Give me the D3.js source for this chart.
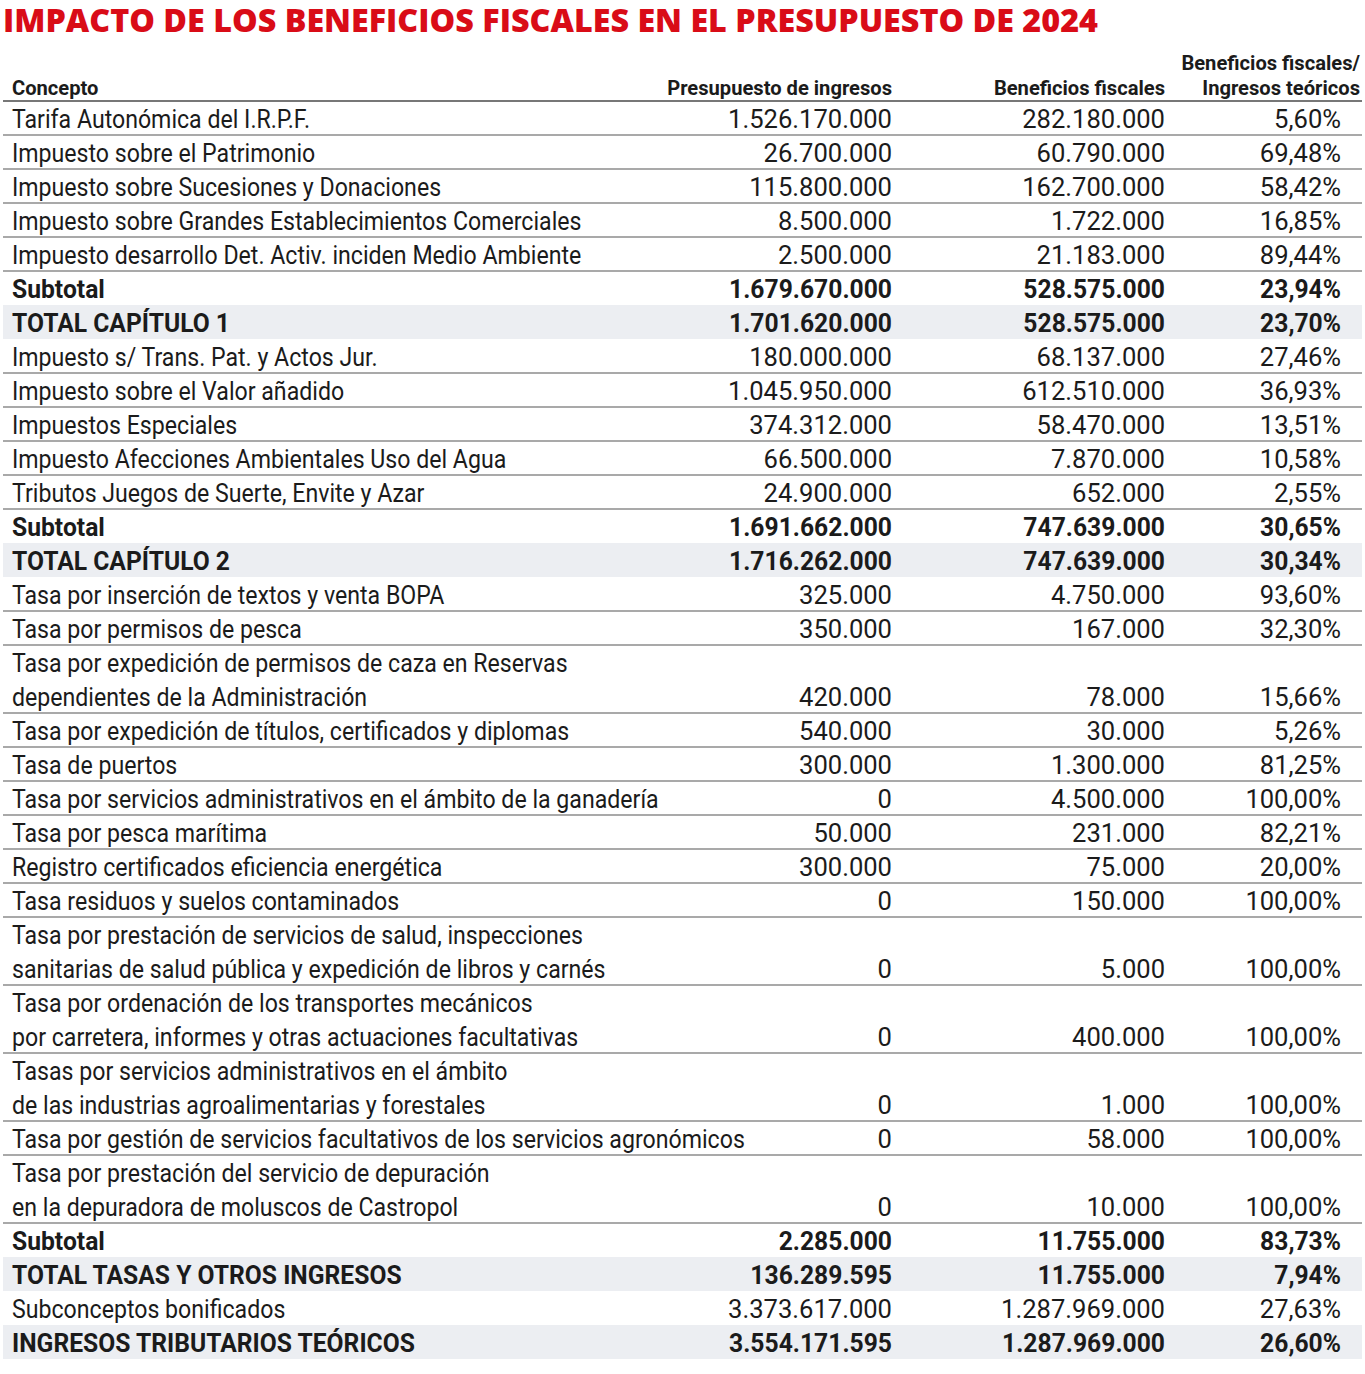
<!DOCTYPE html>
<html><head><meta charset="utf-8">
<script src="https://cdn.jsdelivr.net/npm/d3@7"></script>
<style>html,body{margin:0;padding:0;background:#fff;}</style>
</head><body>
<svg id="chart" width="1365" height="1374"></svg>
<script>
const title = "IMPACTO DE LOS BENEFICIOS FISCALES EN EL PRESUPUESTO DE 2024";
const headers = ["Concepto", "Presupuesto de ingresos", "Beneficios fiscales", "Beneficios fiscales/\nIngresos teóricos"];
const concepts = [
  "Tarifa Autonómica del I.R.P.F.",
  "Impuesto sobre el Patrimonio",
  "Impuesto sobre Sucesiones y Donaciones",
  "Impuesto sobre Grandes Establecimientos Comerciales",
  "Impuesto desarrollo Det. Activ. inciden Medio Ambiente",
  "Subtotal",
  "TOTAL CAPÍTULO 1",
  "Impuesto s/ Trans. Pat. y Actos Jur.",
  "Impuesto sobre el Valor añadido",
  "Impuestos Especiales",
  "Impuesto Afecciones Ambientales Uso del Agua",
  "Tributos Juegos de Suerte, Envite y Azar",
  "Subtotal",
  "TOTAL CAPÍTULO 2",
  "Tasa por inserción de textos y venta BOPA",
  "Tasa por permisos de pesca",
  "Tasa por expedición de permisos de caza en Reservas\ndependientes de la Administración",
  "Tasa por expedición de títulos, certificados y diplomas",
  "Tasa de puertos",
  "Tasa por servicios administrativos en el ámbito de la ganadería",
  "Tasa por pesca marítima",
  "Registro certificados eficiencia energética",
  "Tasa residuos y suelos contaminados",
  "Tasa por prestación de servicios de salud, inspecciones\nsanitarias de salud pública y expedición de libros y carnés",
  "Tasa por ordenación de los transportes mecánicos\npor carretera, informes y otras actuaciones facultativas",
  "Tasas por servicios administrativos en el ámbito\nde las industrias agroalimentarias y forestales",
  "Tasa por gestión de servicios facultativos de los servicios agronómicos",
  "Tasa por prestación del servicio de depuración\nen la depuradora de moluscos de Castropol",
  "Subtotal",
  "TOTAL TASAS Y OTROS INGRESOS",
  "Subconceptos bonificados",
  "INGRESOS TRIBUTARIOS TEÓRICOS"
];
const rowTypes = ["n","n","n","n","n","s","t","n","n","n","n","n","s","t",
  "n","n","n","n","n","n","n","n","n","n","n","n","n","n","s","t","n","t"];
const presupuesto = [1526170000, 26700000, 115800000, 8500000, 2500000, 1679670000, 1701620000,
  180000000, 1045950000, 374312000, 66500000, 24900000, 1691662000, 1716262000,
  325000, 350000, 420000, 540000, 300000, 0, 50000, 300000, 0, 0, 0, 0, 0, 0,
  2285000, 136289595, 3373617000, 3554171595];
const beneficios = [282180000, 60790000, 162700000, 1722000, 21183000, 528575000, 528575000,
  68137000, 612510000, 58470000, 7870000, 652000, 747639000, 747639000,
  4750000, 167000, 78000, 30000, 1300000, 4500000, 231000, 75000, 150000, 5000, 400000, 1000, 58000, 10000,
  11755000, 11755000, 1287969000, 1287969000];
const ratio = [5.60, 69.48, 58.42, 16.85, 89.44, 23.94, 23.70,
  27.46, 36.93, 13.51, 10.58, 2.55, 30.65, 30.34,
  93.60, 32.30, 15.66, 5.26, 81.25, 100.00, 82.21, 20.00, 100.00, 100.00, 100.00, 100.00, 100.00, 100.00,
  83.73, 7.94, 27.63, 26.60];

const svg = d3.select("#chart");
const left = 3, right = 1362;
const textColor = "#1b1b1b";
const loc = d3.formatLocale({decimal: ",", thousands: ".", grouping: [3], currency: ["", "€"]});
const fmtInt = loc.format(",d");
const fmtPct = v => loc.format(",.2f")(v) + "%";

// title
svg.append("text").attr("x", 3).attr("y", 32)
  .attr("font-family", "'Open Sans', sans-serif").attr("font-weight", 800)
  .attr("font-size", 31).attr("fill", "#d90c17")
  .attr("textLength", 1095).attr("lengthAdjust", "spacingAndGlyphs")
  .text(title);

// rows
const rows = concepts.map((c, i) => ({
  concept: c.split("\n"), type: rowTypes[i],
  p: presupuesto[i], b: beneficios[i], r: ratio[i]
}));
const lineH = 34;
let acc = 0;
rows.forEach(r => { r.start = acc; acc += r.concept.length; r.lines = r.concept.length; });
const totalLines = acc;
const y = d3.scaleLinear().domain([0, totalLines]).range([101, 101 + totalLines * lineH]);

const colX = d3.scaleOrdinal().domain(["c", "p", "b", "r"]).range([12, 892, 1165, 1341]);

// calibrate horizontal compression
const fontFam = "Roboto, 'Open Sans', sans-serif";
function measure(txt, size, weight) {
  const t = svg.append("text").attr("font-family", fontFam).attr("font-size", size)
    .attr("font-weight", weight).text(txt);
  const w = t.node().getComputedTextLength();
  t.remove();
  return w;
}
const FS = 25;
const sxText = 733 / measure("Tasa por gestión de servicios facultativos de los servicios agronómicos", FS, 400);
const sxBoldText = 403 / measure("INGRESOS TRIBUTARIOS TEÓRICOS", FS, 700);
const sxNum = 164 / measure("1.526.170.000", FS, 400);
const sxBoldNum = 163 / measure("1.701.620.000", FS, 700);
const sxHead = 225 / measure("Presupuesto de ingresos", 21, 700);

// shading
svg.append("g").selectAll("rect").data(rows.filter(r => r.type === "t")).join("rect")
  .attr("x", left).attr("width", right - left)
  .attr("y", d => y(d.start)).attr("height", d => y(d.start + d.lines) - y(d.start))
  .attr("fill", "#eceef2");

// separator lines
const sepRows = rows.filter((r, i) => i < rows.length - 1 && r.type !== "t" && rows[i + 1].type !== "t");
svg.append("g").selectAll("line").data(sepRows).join("line")
  .attr("x1", left).attr("x2", right)
  .attr("y1", d => y(d.start + d.lines)).attr("y2", d => y(d.start + d.lines))
  .attr("stroke", "#8c8c8c").attr("stroke-width", 1.6);

// header line
svg.append("line").attr("x1", left).attr("x2", right).attr("y1", y(0)).attr("y2", y(0))
  .attr("stroke", "#777").attr("stroke-width", 2);

function addText(g, x, yy, txt, anchor, weight, size, sx) {
  g.append("text")
    .attr("transform", `translate(${x},${yy}) scale(${sx},1)`)
    .attr("text-anchor", anchor).attr("font-family", fontFam)
    .attr("font-size", size).attr("font-weight", weight).attr("fill", textColor)
    .text(txt);
}

// headers
const hg = svg.append("g");
addText(hg, 12, 95, headers[0], "start", 700, 21, sxHead);
addText(hg, 892, 95, headers[1], "end", 700, 21, sxHead);
addText(hg, 1165, 95, headers[2], "end", 700, 21, sxHead);
headers[3].split("\n").forEach((l, k) => addText(hg, 1360, 70 + k * 25, l, "end", 700, 21, sxHead));

// body
const bg = svg.append("g");
rows.forEach(r => {
  const bold = r.type !== "n";
  const w = bold ? 700 : 400;
  const st = bold ? sxBoldText : sxText;
  const sn = bold ? sxBoldNum : sxNum;
  r.concept.forEach((l, k) => addText(bg, colX("c"), y(r.start + k) + 27, l, "start", w, FS, st));
  const by = y(r.start + r.lines - 1) + 27;
  addText(bg, colX("p"), by, fmtInt(r.p), "end", w, FS, sn);
  addText(bg, colX("b"), by, fmtInt(r.b), "end", w, FS, sn);
  addText(bg, colX("r"), by, fmtPct(r.r), "end", w, FS, sn);
});
</script>
</body></html>
